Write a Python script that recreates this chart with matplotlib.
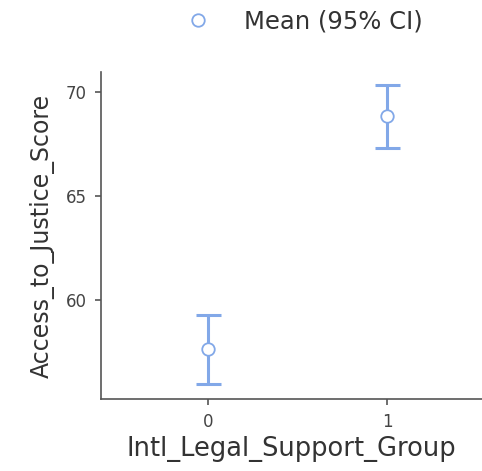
import matplotlib
matplotlib.use("Agg")
import matplotlib.pyplot as plt
from matplotlib.lines import Line2D

groups = [0, 1]
means = [57.63, 68.85]
ci_low = [55.96, 67.31]
ci_high = [59.28, 70.35]

blue = '#82a8e8'
grey = '#555555'

fig = plt.figure(figsize=(4.82, 4.71), dpi=100)
ax = fig.add_axes([101/482, 1 - 399/471, 1 - 101/482, (399 - 72)/471])

err = [[m - lo for m, lo in zip(means, ci_low)], [hi - m for m, hi in zip(means, ci_high)]]
ax.errorbar(groups, means, yerr=err, fmt='none', ecolor=blue, elinewidth=2.2,
            capsize=9, capthick=2.2, zorder=2)
ax.plot(groups, means, linestyle='none', marker='o', markersize=9,
        markerfacecolor='white', markeredgecolor=blue, markeredgewidth=1.3, zorder=3)

ax.set_xlim(-0.6, 1.53)
ax.set_ylim(55.24, 70.96)
ax.set_xticks(groups)
ax.set_yticks([60, 65, 70])
for s in ['top', 'right']:
    ax.spines[s].set_visible(False)
for s in ['left', 'bottom']:
    ax.spines[s].set_color(grey)
    ax.spines[s].set_linewidth(1.2)
ax.tick_params(colors=grey, labelcolor='#444444', labelsize=12, length=4, width=1.2, pad=6)

ax.set_xlabel('Intl_Legal_Support_Group', fontsize=18.5, color='#333333', labelpad=4)
ax.set_ylabel('Access_to_Justice_Score', fontsize=17, color='#333333', labelpad=8)

handle = Line2D([], [], linestyle='none', marker='o', markersize=9,
                markerfacecolor='white', markeredgecolor=blue, markeredgewidth=1.3)
fig.legend([handle], ['Mean (95% CI)'], loc='center', bbox_to_anchor=(298/482, 1 - 22/471),
           frameon=False, fontsize=17.5, labelcolor='#333333', handletextpad=0.9)

fig.savefig('out.png', dpi=100)
